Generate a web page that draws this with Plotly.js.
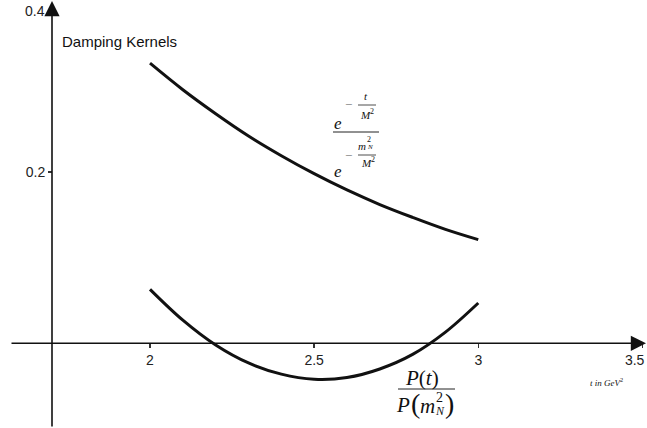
<!DOCTYPE html>
<html>
<head>
<meta charset="utf-8">
<script src="https://cdn.plot.ly/plotly-3.0.1.min.js"></script>
<style>
  html, body { margin: 0; padding: 0; background: #fff; }
  #chart { width: 647px; height: 428px; }
</style>
</head>
<body>
<div id="chart"></div>
<script>
// t values (GeV^2)
var tValues = [2.0, 2.1, 2.2, 2.3, 2.4, 2.5, 2.6, 2.7, 2.8, 2.9, 3.0];
// exponential kernel ratio
var expKernel = [0.327, 0.296, 0.268, 0.242, 0.219, 0.198, 0.179, 0.162, 0.147, 0.133, 0.121];
// polynomial kernel ratio
var polyKernel = [0.063, 0.027, -0.002, -0.023, -0.036, -0.042, -0.040, -0.030, -0.013, 0.013, 0.047];

var xTickVals = [2, 2.5, 3, 3.5];
var xTickText = ['2', '2.5', '3', '3.5'];
var yTickVals = [0.2, 0.4];
var yTickText = ['0.2', '0.4'];

var W = 647, H = 428;
// pixel -> paper helpers (margins are zero, so the plot fills the page)
function px(x) { return x / W; }
function py(y) { return 1 - y / H; }

var sans = 'Liberation Sans, Arial, sans-serif';
var serif = 'Liberation Serif, Times New Roman, serif';
var axisCol = '#333';

var traces = [
  {
    x: tValues, y: expKernel, type: 'scatter', mode: 'lines',
    line: {color: '#111', width: 3, shape: 'spline', smoothing: 1},
    hoverinfo: 'skip'
  },
  {
    x: tValues, y: polyKernel, type: 'scatter', mode: 'lines',
    line: {color: '#111', width: 3, shape: 'spline', smoothing: 1},
    hoverinfo: 'skip'
  }
];

function txt(x, y, text, size, opts) {
  var a = {
    xref: 'paper', yref: 'paper', x: px(x), y: py(y),
    text: text, showarrow: false,
    xanchor: 'center', yanchor: 'middle',
    font: {family: serif, size: size, color: '#111'}
  };
  for (var k in (opts || {})) a[k] = opts[k];
  return a;
}

// last x label sits left of its tick, against the page edge
var xTickShown = xTickText.map(function (s, i) {
  return i === xTickText.length - 1 ? s + '\u00a0\u00a0\u00a0\u00a0' : s;
});

var annotations = [
  // axis arrows
  {xref: 'paper', yref: 'paper', x: 1, y: py(343.3), ax: -637, ay: 0,
   text: '', showarrow: true, arrowhead: 2, arrowsize: 1.9, arrowwidth: 1.6, arrowcolor: '#111'},
  {xref: 'paper', yref: 'paper', x: px(52), y: py(1), ax: 0, ay: 427,
   text: '', showarrow: true, arrowhead: 2, arrowsize: 1.9, arrowwidth: 1.6, arrowcolor: '#111'},
  // top y label sits below the arrow tip
  {xref: 'paper', yref: 'y', x: px(47), y: yTickVals[1], yshift: -10,
   text: yTickText[1], showarrow: false, xanchor: 'right', yanchor: 'middle',
   font: {family: sans, size: 14, color: '#222'}},
  txt(60, 41, 'Damping Kernels', 15, {xanchor: 'left', font: {family: sans, size: 15, color: '#111'}}),

  // e^{-t/M^2} / e^{-m_N^2/M^2}
  txt(338, 124, '<i>e</i>', 17),
  txt(348, 104, '\u2212', 13, {font: {family: serif, size: 13, color: '#777'}}),
  txt(366, 96, '<i>t</i>', 11),
  txt(365, 115, '<i>M</i>', 11),
  txt(372, 111, '2', 8),
  txt(338, 172, '<i>e</i>', 17),
  txt(348, 155, '\u2212', 13, {font: {family: serif, size: 13, color: '#777'}}),
  txt(362, 146, '<i>m</i>', 11),
  txt(369, 139, '2', 8),
  txt(370, 147, '<i>N</i>', 7),
  txt(366, 163, '<i>M</i>', 11),
  txt(373, 159, '2', 8),

  // P(t) / P(m_N^2)
  txt(422, 378, '<i>P</i>(<i>t</i>)', 21),
  txt(403, 405, '<i>P</i>', 21),
  txt(415, 403, '(', 28),
  txt(427, 406, '<i>m</i>', 21),
  txt(439, 397, '2', 14),
  txt(440, 411, '<i>N</i>', 12),
  txt(449, 403, ')', 28),

  txt(606, 382, '<i>t in GeV</i><sup>2</sup>', 9)
];

var shapes = [
  // fraction bars
  {type: 'line', xref: 'paper', yref: 'paper', x0: px(358), x1: px(376), y0: py(105), y1: py(105), line: {color: '#222', width: 0.8}},
  {type: 'line', xref: 'paper', yref: 'paper', x0: px(333), x1: px(379), y0: py(132), y1: py(132), line: {color: '#222', width: 1}},
  {type: 'line', xref: 'paper', yref: 'paper', x0: px(358), x1: px(376), y0: py(155), y1: py(155), line: {color: '#222', width: 0.8}},
  {type: 'line', xref: 'paper', yref: 'paper', x0: px(398), x1: px(455), y0: py(389), y1: py(389), line: {color: '#222', width: 1}}
];

var layout = {
  width: W, height: H,
  margin: {l: 0, r: 0, t: 0, b: 0},
  paper_bgcolor: '#fff', plot_bgcolor: '#fff',
  showlegend: false,
  xaxis: {
    range: [1.543, 3.514], anchor: 'free', position: py(343.3),
    showline: false, showgrid: false, zeroline: false,
    tickvals: xTickVals, ticktext: xTickShown,
    ticks: 'outside', ticklen: 4, tickwidth: 1.4, tickcolor: axisCol,
    ticklabeloverflow: 'allow',
    tickfont: {family: sans, size: 14, color: '#222'}
  },
  yaxis: {
    range: [-0.0989, 0.4008], anchor: 'free', position: px(52),
    showline: false, showgrid: false, zeroline: false,
    tickvals: [yTickVals[0]], ticktext: [yTickText[0]],
    ticks: 'outside', ticklen: 4, tickwidth: 1.4, tickcolor: axisCol,
    tickfont: {family: sans, size: 14, color: '#222'}
  },
  annotations: annotations,
  shapes: shapes
};

Plotly.newPlot('chart', traces, layout, {staticPlot: true});
</script>
</body>
</html>
